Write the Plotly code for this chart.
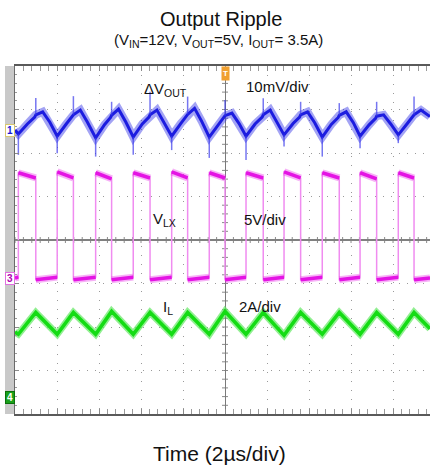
import plotly.graph_objects as go

# ---------------- data (time in µs relative to trigger) ----------------
# Channel 1: output ripple ΔVOUT (mV, AC coupled)
ripple_t = [-10.00,
            -9.84, -9.41, -9.06, -9.01, -8.68, -8.34,
            -7.99, -7.56, -7.27, -7.22, -6.89, -6.55,
            -6.16, -5.73, -5.45, -5.40, -5.07, -4.73,
            -4.37, -3.94, -3.62, -3.57, -3.24, -2.90,
            -2.54, -2.11, -1.83, -1.78, -1.45, -1.11,
            -0.75, -0.32, -0.05, 0.00, 0.33, 0.67,
            1.00, 1.43, 1.77, 1.82, 2.15, 2.49,
            2.81, 3.24, 3.55, 3.60, 3.93, 4.27,
            4.63, 5.06, 5.39, 5.44, 5.77, 6.11,
            6.43, 6.86, 7.17, 7.22, 7.55, 7.89,
            8.25, 8.68, 8.95, 9.00, 9.33, 9.76]
ripple_mv = [0.1,
             -0.8, 1.5, 3.1, 3.6, 4.3, 1.9,
             -1.3, 1.5, 3.1, 3.6, 4.7, 1.9,
             -1.7, 1.4, 3.0, 3.5, 4.9, 2.0,
             -1.5, 1.5, 3.1, 3.6, 4.7, 1.9,
             -1.3, 1.6, 3.2, 3.7, 5.1, 2.1,
             -1.5, 1.3, 2.9, 3.4, 4.0, 1.6,
             -1.3, 1.5, 3.1, 3.6, 4.7, 1.9,
             -1.0, 1.6, 3.1, 3.6, 4.3, 1.8,
             -1.5, 1.4, 3.0, 3.5, 4.3, 1.8,
             -1.3, 1.3, 2.8, 3.3, 3.6, 1.5,
             -1.0, 1.6, 3.1, 3.6, 4.7, 3.2]
# switching spikes on ΔVOUT
spike_t = [-9.84, -9.01, -7.99, -7.22, -6.16, -5.40, -4.37, -3.57, -2.54, -1.78,
           -0.75, 0.00, 1.00, 1.82, 2.81, 3.60, 4.63, 5.44, 6.43, 7.22, 8.25, 9.00]
spike_mv = [-5.6, 7.5, -5.2, 7.9, -6.0, 6.6, -5.6, 8.9, -4.5, 7.8,
            -6.3, 7.0, -6.8, 7.4, -3.7, 6.6, -6.0, 6.3, -4.1, 6.6, -2.9, 7.8]

# Channel 3: switch node VLX (V)
vlx_t = [-10.00,
         -9.84, -9.84, -9.01, -9.01,
         -7.99, -7.99, -7.22, -7.22,
         -6.16, -6.16, -5.40, -5.40,
         -4.37, -4.37, -3.57, -3.57,
         -2.54, -2.54, -1.78, -1.78,
         -0.75, -0.75, 0.00, 0.00,
         1.00, 1.00, 1.82, 1.82,
         2.81, 2.81, 3.60, 3.60,
         4.63, 4.63, 5.44, 5.44,
         6.43, 6.43, 7.22, 7.22,
         8.25, 8.25, 9.00, 9.00,
         9.76]
vlx_v = [0.0,
         0.1, 12.1, 11.5, -0.2,
         0.1, 12.2, 11.5, -0.2,
         0.1, 12.1, 11.4, -0.2,
         0.1, 12.1, 11.5, -0.2,
         0.1, 12.2, 11.5, -0.2,
         0.1, 12.1, 11.5, -0.2,
         0.1, 12.1, 11.5, -0.2,
         0.1, 12.2, 11.5, -0.2,
         0.1, 12.1, 11.5, -0.2,
         0.1, 12.1, 11.4, -0.2,
         0.1, 12.1, 11.5, -0.2,
         0.0]

# Channel 4: inductor current IL (A)
il_t = [-10.00, -9.84, -9.01, -7.99, -7.22, -6.16, -5.40, -4.37, -3.57, -2.54, -1.78, -0.75,
        0.00, 1.00, 1.82, 2.81, 3.60, 4.63, 5.44, 6.43, 7.22, 8.25, 9.00, 9.76]
il_a = [3.0, 2.9, 3.9, 2.9, 3.9, 2.9, 3.95, 2.9, 3.9, 2.9, 3.9, 2.9,
        3.95, 2.9, 3.9, 2.85, 3.9, 2.9, 3.9, 2.9, 3.9, 2.9, 3.9, 3.15]

# channel scale (units/div) and ground-marker offset (div from screen centre)
ch1_scale, ch1_off = 10.0, 2.517
ch3_scale, ch3_off = 5.0, -0.874
ch4_scale, ch4_off = 2.0, -3.616

# ---------------- helpers ----------------
FONT = "Liberation Sans, Arial, sans-serif"


def px_x(px):
    return (px - 15) / 415


def px_y(py):
    return (414 - py) / 348


def ch_range(scale, off):
    return [(-4 - off) * scale, (4 - off) * scale]


def split_edges(t, v):
    xs, ys = [], []
    for i in range(len(t)):
        if i > 0 and t[i] == t[i - 1]:
            xs.append(None)
            ys.append(None)
        xs.append(t[i])
        ys.append(v[i])
    return xs, ys


base = dict(zip(ripple_t, ripple_mv))
sp_x, sp_y = [], []
for t, mv in zip(spike_t, spike_mv):
    sp_x += [t, t, None]
    sp_y += [base[t], mv, None]

plat_x, plat_y = split_edges(vlx_t, vlx_v)

fig = go.Figure()


def line(x, y, yaxis, width, color):
    fig.add_trace(go.Scatter(x=x, y=y, yaxis=yaxis, mode="lines",
                             line=dict(width=width, color=color),
                             hoverinfo="skip"))


# ΔVOUT
line(ripple_t, ripple_mv, "y2", 8, "rgba(50,50,230,0.45)")
line(ripple_t, ripple_mv, "y2", 3, "#1c1ce0")
line(sp_x, sp_y, "y2", 1.5, "rgba(60,60,235,0.7)")
# VLX
line(vlx_t, vlx_v, "y3", 1.5, "#f08cf0")
line(plat_x, plat_y, "y3", 7, "rgba(235,60,235,0.4)")
line(plat_x, plat_y, "y3", 3.5, "#e414e4")
# IL
line(il_t, il_a, "y4", 7, "rgba(100,232,100,0.7)")
line(il_t, il_a, "y4", 3.5, "#14dc14")

xr = [-10, 9.76]
hidden = dict(overlaying="y", visible=False, showgrid=False, zeroline=False)

fig.update_layout(
    width=430, height=468,
    margin=dict(l=15, r=0, t=66, b=54),
    paper_bgcolor="white", plot_bgcolor="white",
    showlegend=False,
    xaxis=dict(range=xr, tick0=0, dtick=2, showgrid=True, gridcolor="#9a9a9a",
               griddash="1px,8px", gridwidth=1, zeroline=True, zerolinecolor="#7a7a7a",
               zerolinewidth=1, showline=True, linecolor="#5a5a5a", linewidth=2,
               mirror="allticks", ticks="inside", ticklen=5, tickcolor="#8a8a8a",
               showticklabels=False,
               minor=dict(dtick=0.4, tick0=0, ticks="inside", ticklen=3,
                          tickcolor="#9a9a9a", showgrid=False)),
    yaxis=dict(range=[-4, 4], tick0=0, dtick=1, showgrid=True, gridcolor="#9a9a9a",
               griddash="1px,7px", gridwidth=1, zeroline=True, zerolinecolor="#808080",
               zerolinewidth=2, showline=True, linecolor="#6a6a6a", linewidth=1,
               mirror=False, ticks="inside", ticklen=4, tickcolor="#8a8a8a",
               showticklabels=False,
               minor=dict(dtick=0.2, tick0=0, ticks="inside", ticklen=2,
                          tickcolor="#9a9a9a", showgrid=False)),
    yaxis2=dict(hidden, range=ch_range(ch1_scale, ch1_off)),
    yaxis3=dict(hidden, range=ch_range(ch3_scale, ch3_off)),
    yaxis4=dict(hidden, range=ch_range(ch4_scale, ch4_off)),
)

# gray strip left of the screen
fig.add_shape(type="rect", xref="paper", yref="paper", x0=px_x(5), x1=px_x(15),
              y0=0, y1=1, fillcolor="#c9c9c9", line=dict(width=0), layer="below")

# centre graticule crossing ticks (every minor division)
for k in range(-25, 25):
    fig.add_shape(type="line", xref="x", yref="paper", x0=k * 0.4, x1=k * 0.4,
                  y0=0.5 - 3 / 348, y1=0.5 + 3 / 348,
                  line=dict(color="#8a8a8a", width=1), layer="below")
for k in range(-19, 20):
    fig.add_shape(type="line", xref="paper", yref="y", x0=px_x(222), x1=px_x(228),
                  y0=k * 0.2, y1=k * 0.2,
                  line=dict(color="#8a8a8a", width=1), layer="below")

ann = []


def text(s, x, y, size, anchor="left", color="#111111"):
    ann.append(dict(text=s, xref="paper", yref="paper", x=px_x(x), y=px_y(y),
                    xanchor=anchor, yanchor="middle", showarrow=False,
                    font=dict(family=FONT, size=size, color=color)))


text("Output Ripple", 221, 19, 20, "center")
text("(V<sub>IN</sub>=12V, V<sub>OUT</sub>=5V, I<sub>OUT</sub>= 3.5A)", 218, 40, 15, "center")
text("Time (2µs/div)", 219, 453, 21, "center")
text("ΔV<sub>OUT</sub>", 142, 89, 15)
text("10mV/div", 244, 87, 15)
text("V<sub>LX</sub>", 151, 219, 15)
text("5V/div", 242, 219, 15)
text("I<sub>L</sub>", 161, 307, 15)
text("2A/div", 237, 306, 15)

# channel ground markers
for lab, yref, col, bg, bd in [("1", "y2", "#1a1ad0", "white", "#d8c870"),
                               ("3", "y3", "#b000b0", "white", "#e070e0"),
                               ("4", "y4", "white", "#1aa01a", "#0a700a")]:
    ann.append(dict(text="<b>%s</b>" % lab, xref="paper", yref=yref, x=px_x(10), y=0,
                    xanchor="center", yanchor="middle", showarrow=False,
                    font=dict(family=FONT, size=10, color=col), bgcolor=bg,
                    bordercolor=bd, borderwidth=1, borderpad=0, width=8, height=11))

# trigger marker
ann.append(dict(text="<b>T</b>", xref="x", yref="paper", x=0, y=1, xanchor="center",
                yanchor="top", showarrow=False, font=dict(family=FONT, size=8, color="white"),
                bgcolor="#f0a030", borderpad=0, width=7, height=13))

fig.update_layout(annotations=ann)
fig.write_html("out.html")
